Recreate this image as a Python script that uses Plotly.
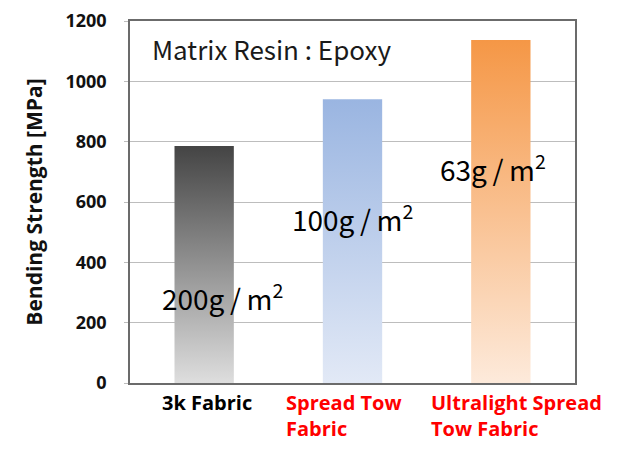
import plotly.graph_objects as go

categories = ["3k Fabric", "Spread Tow<br>Fabric", "Ultralight Spread<br>Tow Fabric"]
category_colors = ["#000000", "#ff0000", "#ff0000"]
strength = [786, 941, 1137]
weight_labels = ["200g\u2009/\u2009m<sup>2</sup>", "100g\u2009/\u2009m<sup>2</sup>", "63g\u2009/\u2009m<sup>2</sup>"]
weight_label_y = [288, 550, 713]
bar_top_colors = ["#444444", "#9ab5e1", "#f59746"]
bar_bottom_colors = ["#dedede", "#e2e9f6", "#fdeadb"]
y_ticks = [0, 200, 400, 600, 800, 1000, 1200]

bar_width = 0.4
fig = go.Figure()
for i, v in enumerate(strength):
    x0, x1 = i - bar_width / 2, i + bar_width / 2
    fig.add_trace(go.Scatter(
        x=[x0, x0, x1, x1, x0], y=[0, v, v, 0, 0],
        mode="lines", fill="toself", line=dict(width=0),
        fillgradient=dict(type="vertical",
                          colorscale=[[0, bar_bottom_colors[i]], [1, bar_top_colors[i]]]),
        hoverinfo="skip", showlegend=False,
    ))

annotations = []
label_shift = [-44, -69, -72]
for i, (c, col) in enumerate(zip(categories, category_colors)):
    annotations.append(dict(
        x=i, y=0, xref="x", yref="y", text=c, showarrow=False,
        xanchor="left", yanchor="top", align="left", xshift=label_shift[i], yshift=-4,
        font=dict(family="Open Sans", size=20, color=col, weight="bold"),
    ))
label_xshift = [18, 0, -8]
for i, t in enumerate(weight_labels):
    annotations.append(dict(
        x=i, y=weight_label_y[i], xref="x", yref="y", text=t, showarrow=False,
        xanchor="center", yanchor="middle", xshift=label_xshift[i],
        font=dict(family="Noto Sans CJK JP", size=28, color="#000000"),
    ))
annotations.append(dict(
    x=-0.5, y=1110, xref="x", yref="y", text="Matrix Resin : Epoxy", showarrow=False,
    xanchor="left", yanchor="middle", xshift=20,
    font=dict(family="Noto Sans CJK JP", size=26, color="#1a1a1a"),
))

fig.update_layout(
    width=627, height=456,
    margin=dict(l=122, r=60, t=13, b=81),
    paper_bgcolor="white", plot_bgcolor="white",
    annotations=annotations,
    xaxis=dict(range=[-0.5, 2.5], showticklabels=False, showgrid=False, zeroline=False,
               automargin=False,
               showline=True, linecolor="#6b6b6b", linewidth=1.5, mirror=True, ticks=""),
    yaxis=dict(range=[0, 1200], tickvals=y_ticks, showgrid=True, gridcolor="#bdbdbd",
               automargin=False,
               gridwidth=1, zeroline=False, showline=True, linecolor="#6b6b6b",
               linewidth=1.5, mirror=True, ticks="outside", ticklen=4, tickcolor="#bdbdbd",
               ticklabelstandoff=14,
               tickfont=dict(family="Open Sans", size=18, color="#111111", weight="bold"),
               title=dict(text="Bending Strength [MPa]", standoff=17,
                          font=dict(family="Open Sans", size=21, color="#111111", weight="bold"))),
)

fig.write_html("out.html")
